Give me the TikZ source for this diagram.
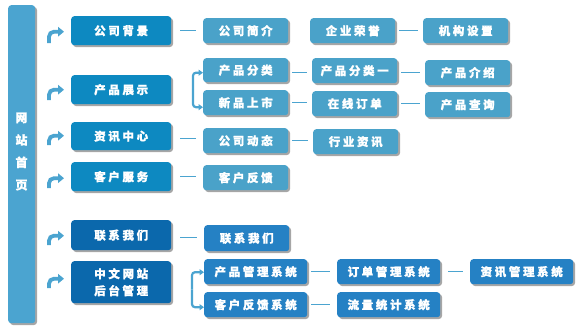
\documentclass[tikz,border=0pt]{standalone}
\usepackage{fontspec}
\newfontfamily\cjk{Noto Sans CJK SC}[LetterSpace=23, BoldFeatures={FakeBold=1.2}]
\newfontfamily\cjkbar{Noto Sans CJK SC}[BoldFeatures={FakeBold=1.2}]
\usetikzlibrary{shadows,arrows.meta}
\definecolor{barcol}{HTML}{4BA4D0}
\definecolor{lonea}{HTML}{0D89C1}
\definecolor{loneb}{HTML}{0B68AC}
\definecolor{ltwoa}{HTML}{4AA2C9}
\definecolor{ltwob}{HTML}{2581C4}
\definecolor{linecol}{HTML}{4BA4D0}
\begin{document}
\begin{tikzpicture}[x=1pt,y=-1pt,
  box/.style={rounded corners=3pt, anchor=north west, inner sep=0pt, text=white,
    font=\fontsize{11.5}{17}\selectfont\cjk\bfseries,
    drop shadow={shadow xshift=1.8pt,shadow yshift=-1.8pt,fill=black,opacity=0.35}},
  lone/.style={box, fill=lonea, minimum width=100pt, minimum height=29pt},
  lonedark/.style={lone, fill=loneb},
  ltwo/.style={box, fill=ltwoa, minimum width=85pt, minimum height=25pt},
  ltwodark/.style={ltwo, fill=ltwob},
  sysbox/.style={ltwodark, minimum width=103pt},
  conn/.style={draw=linecol, line width=1pt, shorten <=4pt, shorten >=5pt},
  connone/.style={conn, shorten <=9pt, shorten >=7pt},
  hook/.style={draw=barcol, line width=3.8pt, rounded corners=5pt, -{Triangle[length=6pt,width=9.5pt]}},
  brk/.style={draw=barcol, line width=2.2pt, rounded corners=3pt, -{Triangle[length=4.5pt,width=6pt]}}
]
\useasboundingbox (0,0) rectangle (580,330);

% main bar
\node[box, fill=barcol, minimum width=27pt, minimum height=318pt] (home) at (8,5) {};
\node[text=white, align=center, inner sep=0pt,
  font=\fontsize{12}{22.4}\selectfont\cjkbar\bfseries] (hometext) at (21.5,151.5) {网\\站\\首\\页};

% level one
\node[lone, minimum height=29pt] (b1) at (71,16) {公司背景};
\node[lone, minimum height=29pt] (b2) at (71,75) {产品展示};
\node[lone, minimum height=28pt] (b3) at (71,122) {资讯中心};
\node[lone, minimum height=29pt] (b4) at (71,162) {客户服务};
\node[lonedark, minimum height=30pt] (b5) at (71,220) {联系我们};
\node[lonedark, minimum height=42pt, align=center] (b6) at (71,261) {中文网站\\后台管理};

% level two
\node[ltwo] (c11) at (203,18) {公司简介};
\node[ltwo] (c12) at (310,18) {企业荣誉};
\node[ltwo] (c13) at (423,18) {机构设置};
\node[ltwo, minimum height=24pt] (c21) at (203,58) {产品分类};
\node[ltwo] (c22) at (312,58) {产品分类一};
\node[ltwo] (c23) at (425,60) {产品介绍};
\node[ltwo] (c31) at (203,90) {新品上市};
\node[ltwo] (c32) at (312,91) {在线订单};
\node[ltwo] (c33) at (425,92) {产品查询};
\node[ltwo] (c41) at (203,128) {公司动态};
\node[ltwo] (c42) at (313,129) {行业资讯};
\node[ltwo] (c51) at (203,165) {客户反馈};
\node[ltwodark, minimum height=26pt] (c61) at (204,225) {联系我们};
\node[sysbox] (d11) at (204,259) {产品管理系统};
\node[sysbox] (d12) at (337,259) {订单管理系统};
\node[sysbox] (d13) at (470,259) {资讯管理系统};
\node[sysbox] (d21) at (204,292) {客户反馈系统};
\node[sysbox] (d22) at (337,292) {流量统计系统};

% hooks from main bar
\coordinate (s1) at (49,43);
\coordinate (s2) at (49,100);
\coordinate (s3) at (49,145);
\coordinate (s4) at (49,188);
\coordinate (s5) at (49,245);
\coordinate (s6) at (49,288);
\draw[hook] (s1) |- ([xshift=-7pt,yshift=-1pt]b1.west);
\draw[hook] (s2) |- ([xshift=-7pt]b2.west);
\draw[hook] (s3) |- ([xshift=-7pt,yshift=0.5pt]b3.west);
\draw[hook] (s4) |- ([xshift=-7pt,yshift=-1.5pt]b4.west);
\draw[hook] (s5) |- ([xshift=-7pt,yshift=-0.5pt]b5.west);
\draw[hook] (s6) |- ([xshift=-7pt,yshift=3.5pt]b6.west);

% brackets
\coordinate (k1) at (193,89.75);
\draw[brk] (k1) |- ([yshift=-2.5pt]c21.west);
\draw[brk] (k1) |- ([yshift=-4.5pt]c31.west);
\coordinate (k2) at (192,289.5);
\draw[brk] (k2) |- ([yshift=-0.5pt]d11.west);
\draw[brk] (k2) |- ([yshift=-2.5pt]d21.west);

% connectors
\draw[connone] (b1.east) -- (b1.east -| c11.west);
\draw[conn] (c12.east) -- (c12.east -| c13.west);
\draw[conn] ([yshift=-2.5pt]c21.east) -- ([yshift=-2.5pt]c21.east -| c22.west);
\draw[conn] ([yshift=-2pt]c22.east) -- ([yshift=-2pt]c22.east -| c23.west);
\draw[conn] (c31.east) -- (c31.east -| c32.west);
\draw[conn] (c32.east) -- (c32.east -| c33.west);
\draw[connone] ([yshift=-2pt]b3.east) -- ([yshift=-2pt]b3.east -| c41.west);
\draw[conn] (c41.east) -- (c41.east -| c42.west);
\draw[connone] (b4.east) -- (b4.east -| c51.west);
\draw[connone] ([yshift=-2pt]b5.east) -- ([yshift=-2pt]b5.east -| c61.west);
\draw[conn, shorten >=7pt] (d11.east) -- (d11.east -| d12.west);
\draw[conn, shorten <=8pt, shorten >=7pt] (d12.east) -- (d12.east -| d13.west);
\draw[conn, shorten >=7pt] (d21.east) -- (d21.east -| d22.west);
\end{tikzpicture}
\end{document}
